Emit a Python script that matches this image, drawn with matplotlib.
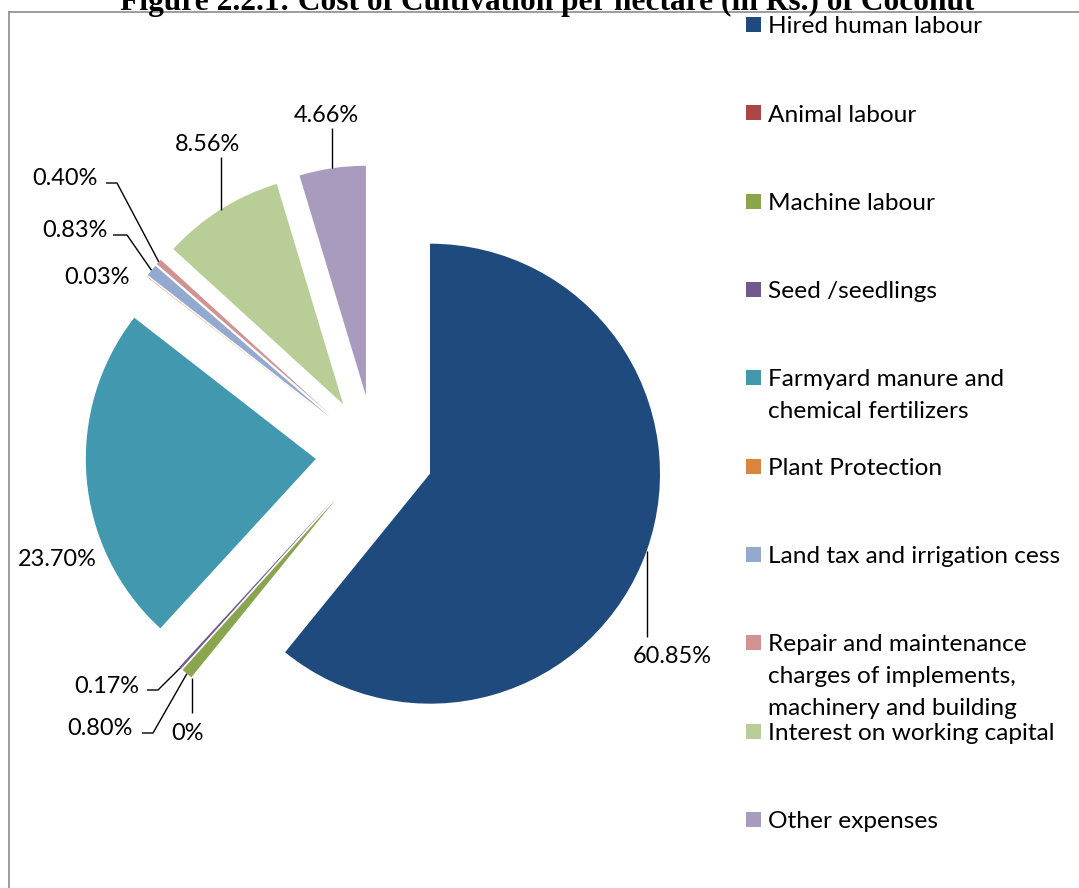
import matplotlib
matplotlib.use("Agg")
import matplotlib.pyplot as plt
import numpy as np
from matplotlib.lines import Line2D
from matplotlib.patches import Rectangle

# ---------------- data ----------------
categories = ["Hired human labour", "Animal labour", "Machine labour", "Seed /seedlings",
              "Farmyard manure and\nchemical fertilizers", "Plant Protection",
              "Land tax and irrigation cess",
              "Repair and maintenance\ncharges of implements,\nmachinery and building",
              "Interest on working capital", "Other expenses"]
shares = [60.85, 0.0, 0.80, 0.17, 23.70, 0.03, 0.83, 0.40, 8.56, 4.66]
value_labels = ["60.85%", "0%", "0.80%", "0.17%", "23.70%", "0.03%", "0.83%",
                "0.40%", "8.56%", "4.66%"]
colors = ["#1F4A7D", "#AA4643", "#89A54E", "#71588F", "#4198AF", "#DB843D",
          "#93A9CF", "#D19392", "#B9CD96", "#A99BBD"]
title = "Figure 2.2.1: Cost of Cultivation per hectare (in Rs.) of Coconut"

# ---------------- layout (pixels, image coords: y down) ----------------
W, H, DPI = 1079, 888, 100
CX, CY, R = 374.5, 454.0, 230.0      # pie centre and radius
L = 370.0                            # half size of pie axes box
EXPLODE = 0.256

# label text centres and leader elbow points (image pixels)
label_pos = [(672, 655), (188, 732), (100, 727), (107, 685), (57, 558),
             (97, 276), (75, 229), (65, 177), (207, 143), (326, 114)]
leader_pts = [[(None, 637)], [(None, 713)], [(153, 733), (142, 733)],
              [(158, 690), (147, 690)], None, None,
              [(127, 235), (113, 235)], [(117, 183), (106, 183)],
              [(None, 157)], [(None, 128)]]

fig = plt.figure(figsize=(W / DPI, H / DPI), dpi=DPI)
fig.patch.set_facecolor("white")
renderer = fig.canvas.get_renderer()


def fit_size(text, target_px, **kw):
    t = fig.text(0, 0, text, fontsize=10, **kw)
    w = t.get_window_extent(renderer).width
    t.remove()
    return 10 * target_px / w


def fig_xy(px, py):
    return px / W, (H - py) / H


SANS = ["Lato", "DejaVu Sans"]

# frame
frame_col = "#8C8C8C"
fig.add_artist(Line2D([9 / W, 1.01], [(H - 12) / H] * 2, color=frame_col, lw=1.2,
                      transform=fig.transFigure))
fig.add_artist(Line2D([9 / W] * 2, [-0.01, (H - 12) / H], color=frame_col, lw=1.2,
                      transform=fig.transFigure))

# title (partly cut at top)
ts = fit_size(title, 855, family=["Liberation Serif"], weight="bold")
fig.text(*fig_xy(547, 10), title, ha="center", va="baseline", fontsize=ts,
         family=["Liberation Serif"], weight="bold", color="black")

# pie
ax = fig.add_axes([(CX - L) / W, (H - CY - L) / H, 2 * L / W, 2 * L / H])
ax.pie(shares, colors=colors, startangle=90, counterclock=False,
       explode=[EXPLODE] * len(shares), radius=1.0,
       wedgeprops=dict(linewidth=0))
ax.set_xlim(-L / R, L / R)
ax.set_ylim(-L / R, L / R)
ax.set_aspect("auto")
ax.axis("off")


def px2data(px, py):
    return (px - CX) / R, (CY - py) / R


vals = np.array(shares)
cum = np.cumsum(vals)
mid = 360.0 * (cum - vals / 2) / vals.sum()

ls = fit_size("60.85%", 79, family=SANS)
em_px = ls * DPI / 72
for i, lab in enumerate(value_labels):
    th = np.deg2rad(mid[i])
    ax_pt = ((1 + EXPLODE) * np.sin(th), (1 + EXPLODE) * np.cos(th))
    tx, ty = label_pos[i]
    dx, dy = px2data(tx, ty + 0.36 * em_px)
    ax.text(dx, dy, lab, ha="center", va="baseline", fontsize=ls, family=SANS,
            color="black", clip_on=False)
    if leader_pts[i]:
        xs, ys = [ax_pt[0]], [ax_pt[1]]
        for (px, py) in leader_pts[i]:
            if px is None:
                ddx = ax_pt[0]
                _, ddy = px2data(0, py)
            else:
                ddx, ddy = px2data(px, py)
            xs.append(ddx)
            ys.append(ddy)
        ax.plot(xs, ys, color="black", lw=1.0, clip_on=False, solid_capstyle="butt")

# legend
gs = fit_size("Land tax and irrigation cess", 292, family=SANS)
g_em = gs * DPI / 72
y0, step, sw = 24.7, 88.3, 15.0
line_gap = 32.0
for i, cat in enumerate(categories):
    cy = y0 + i * step
    fx, fy = fig_xy(746, cy + sw / 2)
    fig.add_artist(Rectangle((fx, fy), sw / W, sw / H, transform=fig.transFigure,
                             facecolor=colors[i], edgecolor="none"))
    for k, line in enumerate(cat.split("\n")):
        fig.text(*fig_xy(768, cy + 8.5 + k * line_gap), line, ha="left",
                 va="baseline", fontsize=gs, family=SANS, color="black")

fig.savefig("out.png", dpi=DPI, facecolor="white")
